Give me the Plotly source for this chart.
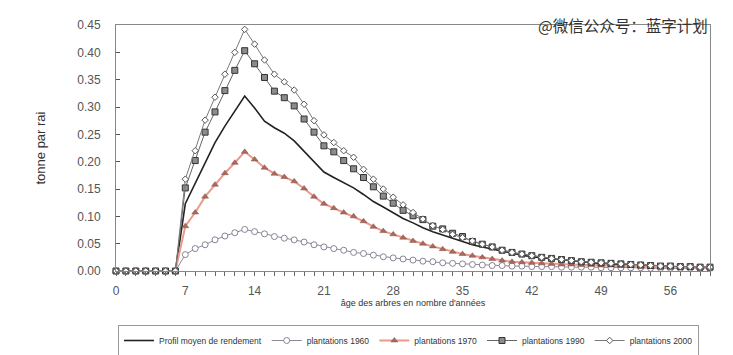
import plotly.graph_objects as go

years = list(range(0, 61))

moyen = [0]*7 + [0.123, 0.160, 0.200, 0.235, 0.265, 0.292, 0.320, 0.298, 0.274, 0.262,
                 0.252, 0.238, 0.219, 0.200, 0.181, 0.171, 0.161, 0.152, 0.140, 0.127,
                 0.117, 0.106, 0.096, 0.088, 0.079, 0.072, 0.066, 0.059, 0.053, 0.048,
                 0.044, 0.040, 0.036, 0.032, 0.029, 0.026, 0.024, 0.022, 0.020, 0.018,
                 0.016, 0.015, 0.014, 0.013, 0.012, 0.011, 0.010, 0.009, 0.008, 0.008,
                 0.007, 0.007, 0.006, 0.006]

p1960 = [0]*7 + [0.030, 0.041, 0.048, 0.057, 0.064, 0.070, 0.076, 0.072, 0.068, 0.063,
                 0.060, 0.057, 0.053, 0.048, 0.044, 0.041, 0.038, 0.034, 0.032, 0.029,
                 0.026, 0.024, 0.022, 0.020, 0.018, 0.017, 0.015, 0.014, 0.013, 0.012,
                 0.011, 0.010, 0.010, 0.009, 0.009, 0.008, 0.008, 0.008, 0.007, 0.007,
                 0.007, 0.007, 0.006, 0.006, 0.006, 0.006, 0.006, 0.005, 0.005, 0.005,
                 0.005, 0.005, 0.005, 0.005]

p1970 = [0]*7 + [0.082, 0.107, 0.136, 0.158, 0.179, 0.198, 0.218, 0.204, 0.189, 0.178,
                 0.172, 0.164, 0.151, 0.136, 0.123, 0.115, 0.107, 0.100, 0.091, 0.081,
                 0.073, 0.067, 0.061, 0.055, 0.050, 0.045, 0.040, 0.035, 0.031, 0.028,
                 0.025, 0.022, 0.019, 0.017, 0.016, 0.015, 0.014, 0.013, 0.012, 0.012,
                 0.011, 0.011, 0.010, 0.010, 0.009, 0.009, 0.008, 0.008, 0.007, 0.007,
                 0.007, 0.006, 0.006, 0.006]

p1990 = [0]*7 + [0.152, 0.202, 0.254, 0.291, 0.330, 0.367, 0.403, 0.379, 0.354, 0.329,
                 0.317, 0.302, 0.278, 0.254, 0.229, 0.218, 0.202, 0.187, 0.171, 0.154,
                 0.137, 0.124, 0.111, 0.101, 0.094, 0.082, 0.077, 0.069, 0.063, 0.054,
                 0.049, 0.044, 0.038, 0.034, 0.031, 0.028, 0.025, 0.023, 0.021, 0.019,
                 0.017, 0.016, 0.015, 0.014, 0.013, 0.012, 0.011, 0.010, 0.009, 0.009,
                 0.008, 0.008, 0.007, 0.007]

p2000 = [0]*7 + [0.168, 0.220, 0.276, 0.318, 0.360, 0.400, 0.442, 0.415, 0.386, 0.360,
                 0.346, 0.331, 0.305, 0.275, 0.249, 0.235, 0.220, 0.208, 0.186, 0.168,
                 0.150, 0.135, 0.121, 0.107, 0.095, 0.083, 0.076, 0.067, 0.061, 0.055,
                 0.049, 0.044, 0.038, 0.034, 0.031, 0.028, 0.025, 0.023, 0.021, 0.019,
                 0.017, 0.016, 0.015, 0.014, 0.013, 0.012, 0.011, 0.010, 0.009, 0.009,
                 0.008, 0.008, 0.007, 0.007]

x_ticks = [0, 7, 14, 21, 28, 35, 42, 49, 56]
y_ticks = [0, 0.05, 0.10, 0.15, 0.20, 0.25, 0.30, 0.35, 0.40, 0.45]

fig = go.Figure()

fig.add_trace(go.Scatter(
    x=years, y=moyen, mode="lines", name="Profil moyen de rendement",
    line=dict(color="#222222", width=1.6), cliponaxis=False))

fig.add_trace(go.Scatter(
    x=years, y=p1960, mode="lines+markers", name="plantations 1960",
    line=dict(color="#8f879a", width=1),
    marker=dict(symbol="circle", size=6, color="white",
                line=dict(color="#8a8294", width=1)), cliponaxis=False))

fig.add_trace(go.Scatter(
    x=years, y=p1970, mode="lines+markers", name="plantations 1970",
    line=dict(color="#eb9a8a", width=2),
    marker=dict(symbol="triangle-up", size=6, color="#a8695f",
                line=dict(color="#8a5048", width=0.5)), cliponaxis=False))

fig.add_trace(go.Scatter(
    x=years, y=p1990, mode="lines+markers", name="plantations 1990",
    line=dict(color="#666666", width=1),
    marker=dict(symbol="square", size=6, color="#8c8c8c",
                line=dict(color="#333333", width=1)), cliponaxis=False))

fig.add_trace(go.Scatter(
    x=years, y=p2000, mode="lines+markers", name="plantations 2000",
    line=dict(color="#7a7a7a", width=1),
    marker=dict(symbol="diamond", size=5, color="white",
                line=dict(color="#555555", width=1)), cliponaxis=False))

fig.add_annotation(
    text="@微信公众号：蓝字计划", xref="paper", yref="paper",
    x=1.0, y=1.0, xanchor="right", yanchor="middle", showarrow=False,
    font=dict(family="Noto Sans CJK SC", size=15.5, color="#333333"))

fig.update_layout(
    width=733, height=355,
    margin=dict(l=116, r=23, t=25, b=84, autoexpand=False),
    plot_bgcolor="white", paper_bgcolor="white",
    font=dict(family="Liberation Sans, Arial, sans-serif", color="#444444"),
    showlegend=True,
    legend=dict(orientation="h", xref="container", yref="container",
                x=118/733, y=1 - 325/355, xanchor="left", yanchor="top",
                bordercolor="#999999", borderwidth=1,
                font=dict(size=8.5, color="#333333"),
                itemwidth=30, tracegroupgap=0),
    xaxis=dict(range=[0, 60], tickmode="array", tickvals=x_ticks,
               ticks="outside", ticklen=4, tickcolor="#666666",
               minor=dict(dtick=1, ticks="outside", ticklen=4, tickcolor="#666666"),
               showline=True, linecolor="#888888", linewidth=1, mirror=True,
               showgrid=False, zeroline=False, ticklabelstandoff=5,
               tickfont=dict(size=12, color="#555555"),
               title=dict(text="âge des arbres en nombre d'années",
                          font=dict(size=9, color="#333333"), standoff=2)),
    yaxis=dict(range=[0, 0.45], tickmode="array", tickvals=y_ticks,
               tickformat=".2f",
               ticks="inside", ticklen=4, tickcolor="#555555",
               showline=True, linecolor="#888888", linewidth=1, mirror=True,
               showgrid=False, zeroline=False, ticklabelstandoff=12,
               tickfont=dict(size=12, color="#555555"),
               title=dict(text="tonne par rai", font=dict(size=13, color="#333333"),
                          standoff=28)),
)

fig.write_html("out.html", config={"displayModeBar": False},
               post_script="document.body.style.margin='0';")
